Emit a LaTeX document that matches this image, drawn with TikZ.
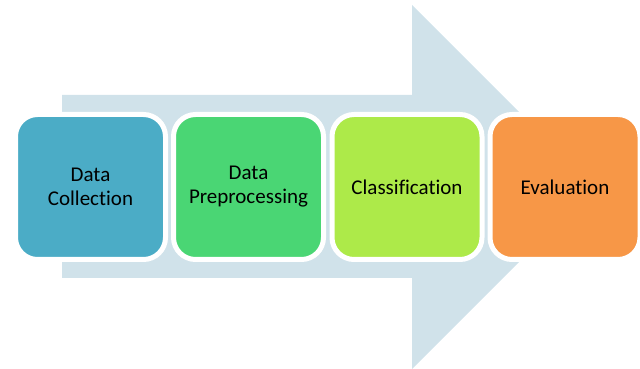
\documentclass[tikz,border=0pt]{standalone}
\usepackage{fontspec}
\setmainfont{Carlito}[Ligatures={NoCommon}]
\definecolor{flowback}{HTML}{D0E2EA}
\definecolor{collectcol}{HTML}{4BACC6}
\definecolor{prepcol}{HTML}{4AD674}
\definecolor{classcol}{HTML}{ADEA49}
\definecolor{evalcol}{HTML}{F79747}
\tikzset{
  stagebox/.style={draw=white, line width=5pt, rounded corners=22pt,
    minimum width=150pt, minimum height=145pt, inner sep=2pt,
    align=center, text=black,
    font=\fontsize{21}{24}\selectfont}
}
\begin{document}
\begin{tikzpicture}[x=1pt,y=1pt]
  \useasboundingbox (0,0) rectangle (640,369);
  % broad process arrow in the background
  \fill[flowback] (62,91) -- (412,91) -- (412,0) -- (594,182)
    -- (412,364) -- (412,274) -- (62,274) -- cycle;
  % process stages
  \node[stagebox, fill=collectcol] (collect) at (90.5,182) {Data\\Collection};
  \node[stagebox, fill=prepcol]    (prep)    at (248.5,182) {Data\\Preprocessing};
  \node[stagebox, fill=classcol]   (classify) at (407,182) {Classification};
  \node[stagebox, fill=evalcol]    (evaluate) at (565,182) {Evaluation};
\end{tikzpicture}
\end{document}
